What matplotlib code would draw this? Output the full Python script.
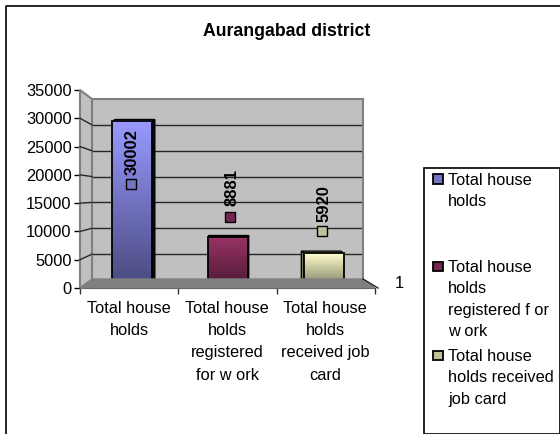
import numpy as np
import matplotlib
matplotlib.use('Agg')
import matplotlib.pyplot as plt
from matplotlib.colors import LinearSegmentedColormap
from matplotlib.patches import Polygon, Rectangle
from matplotlib.transforms import offset_copy

title = 'Aurangabad district'
categories = ['Total house\nholds', 'Total house\nholds\nregistered\nfor w ork', 'Total house\nholds\nreceived job\ncard']
legend_labels = ['Total house\nholds', 'Total house\nholds\nregistered f or\nw ork', 'Total house\nholds received\njob card']
values = [30002, 8881, 5920]
y_ticks = [0, 5000, 10000, 15000, 20000, 25000, 30000, 35000]

W, H = 560, 434
plt.rcParams['font.family'] = ['Liberation Sans', 'DejaVu Sans']
FS = 11.8

top_cols = ['#9999ff', '#993366', '#ffffcc']
bot_cols = ['#4a4a80', '#4d1a33', '#808066']
key_cols = ['#7474c2', '#732650', '#c0c09a']


def fx(x):
    return x / W


def fy(y):
    return 1 - y / H


def box(x0, y0, x1, y1):
    # pixel box, y measured from the top of the picture
    return [fx(x0), fy(y1), (x1 - x0) / W, (y1 - y0) / H]


def poly(points, **kw):
    pts = [(fx(a), fy(b)) for a, b in points]
    fig.add_artist(Polygon(pts, closed=True, transform=fig.transFigure, **kw))


fig = plt.figure(figsize=(W / 100, H / 100), dpi=100, facecolor='white')

# outer frame, cut off by the picture at right and bottom
fig.add_artist(plt.Line2D([fx(6), fx(6), fx(560)], [fy(434), fy(5.5), fy(5.5)], color='black', lw=1.2))
fig.text(fx(287), fy(31), title, ha='center', va='center', fontsize=12.7, fontweight='bold')

# side wall and floor
poly([(80, 90), (92, 99), (92, 280), (80, 288)], facecolor='#c0c0c0', edgecolor='#808080', lw=1.5)
poly([(80, 288), (92, 279), (363, 279), (375, 288)], facecolor='#808080', edgecolor='#808080', lw=1)

# back wall with the gridlines
ax_back = fig.add_axes(box(92, 99, 363, 280), facecolor='#c0c0c0')
ax_back.set_xlim(0, 1)
ax_back.set_ylim(0, 35000)
ax_back.set_xticks([])
ax_back.set_yticks(y_ticks[1:-1])
ax_back.tick_params(length=0, labelleft=False)
ax_back.grid(axis='y', color='#262626', lw=1)
for s in ax_back.spines.values():
    s.set_color('#808080')
    s.set_linewidth(1.5)

# front axis with the ticks
ax = fig.add_axes(box(80, 90, 375, 288), facecolor='none')
ax.set_ylim(0, 35000)
ax.set_xlim(0, 3)
ax.set_yticks(y_ticks)
ax.set_xticks([0, 1, 2, 3])
ax.set_xticklabels([])
ax.tick_params(axis='y', labelsize=FS, length=4, width=1, pad=2, colors='black')
ax.tick_params(axis='x', length=4, width=1, color='#333333')
for s in ['top', 'right']:
    ax.spines[s].set_visible(False)
ax.spines['left'].set_color('#333333')
ax.spines['bottom'].set_color('#333333')

# slanted pieces of the gridlines on the side wall
for t in y_ticks[1:-1]:
    yf = 288 - t / 35000 * 198
    yb = 280 - t / 35000 * 181
    fig.add_artist(plt.Line2D([fx(80), fx(92)], [fy(yf), fy(yb)], color='#262626', lw=1))
fig.add_artist(plt.Line2D([fx(363), fx(378)], [fy(279), fy(288)], color='#222222', lw=1))

# bars have their own scale, they stand inside the 3d box
ax_bar = fig.add_axes(box(80, 93.4, 375, 285.9), facecolor='none')
ax_bar.axis('off')
xs = np.arange(len(values))
bar_w = 0.41
depth = [0.032, 0.0, -0.032]
rise = [250, 350, 400]
bars = ax_bar.bar(xs, values, bar_w, facecolor='none', edgecolor='black', lw=1.3, zorder=4)
for i, b in enumerate(bars):
    x0, x1 = b.get_x(), b.get_x() + b.get_width()
    v = b.get_height()
    cmap = LinearSegmentedColormap.from_list('c%d' % i, [bot_cols[i], top_cols[i]])
    ax_bar.imshow(np.linspace(1, 0, 64).reshape(-1, 1), cmap=cmap, extent=(x0, x1, 0, v), aspect='auto', zorder=3)
    d = depth[i]
    edge = x1 if d >= 0 else x0
    ax_bar.add_patch(Polygon([(edge, 0), (edge, v), (edge + d, v + rise[i]), (edge + d, 300)],
                             facecolor='#0a0a14' if i == 0 else bot_cols[i], edgecolor='black', lw=1, zorder=2))
    ax_bar.add_patch(Polygon([(x0, v), (x1, v), (x1 + d, v + rise[i]), (x0 + d, v + rise[i])],
                             facecolor='#111111' if i < 2 else top_cols[i], edgecolor='black', lw=1, zorder=2))
ax_bar.set_xlim(-0.542, 2.53)
ax_bar.set_ylim(0, 35000)

# data labels: little key square with the rotated value above it
key_dx = [-1, 2, -2]
text_dx = [0, 4, 0]
key_dy = [-63, 20, 22]
text_dy = [-31, 50, 50]
for i, v in enumerate(values):
    tr = offset_copy(ax_bar.transData, fig=fig, x=key_dx[i] * 72 / 100, y=key_dy[i] * 72 / 100, units='points')
    ax_bar.plot([xs[i]], [v], 's', ms=7, mfc=key_cols[i], mec='black', mew=1, transform=tr, zorder=6)
    ax_bar.annotate(str(v), (xs[i], v), xytext=(text_dx[i], text_dy[i]), textcoords='offset pixels',
                    rotation=90, ha='center', va='center', fontsize=12, fontweight='bold', zorder=6,
                    annotation_clip=False)

# category labels
cat_x = [129, 227, 325]
for cx, c in zip(cat_x, categories):
    fig.text(fx(cx), fy(301), c, ha='center', va='top', fontsize=FS, linespacing=1.6)
fig.text(fx(399), fy(284), '1', ha='center', va='center', fontsize=FS)

# legend box
fig.add_artist(Rectangle((fx(424), fy(434)), (559.5 - 424) / W, (434 - 168) / H, transform=fig.transFigure,
                         facecolor='white', edgecolor='black', lw=1.2))
legend_y = [173, 260, 349]
for yl, lab, col in zip(legend_y, legend_labels, key_cols):
    fig.add_artist(Rectangle((fx(433), fy(yl + 11)), 9.5 / W, 9.5 / H, transform=fig.transFigure,
                             facecolor=col, edgecolor='black', lw=1.3))
    fig.text(fx(448), fy(yl), lab, ha='left', va='top', fontsize=FS, linespacing=1.54)

fig.savefig('out.png', dpi=100)
